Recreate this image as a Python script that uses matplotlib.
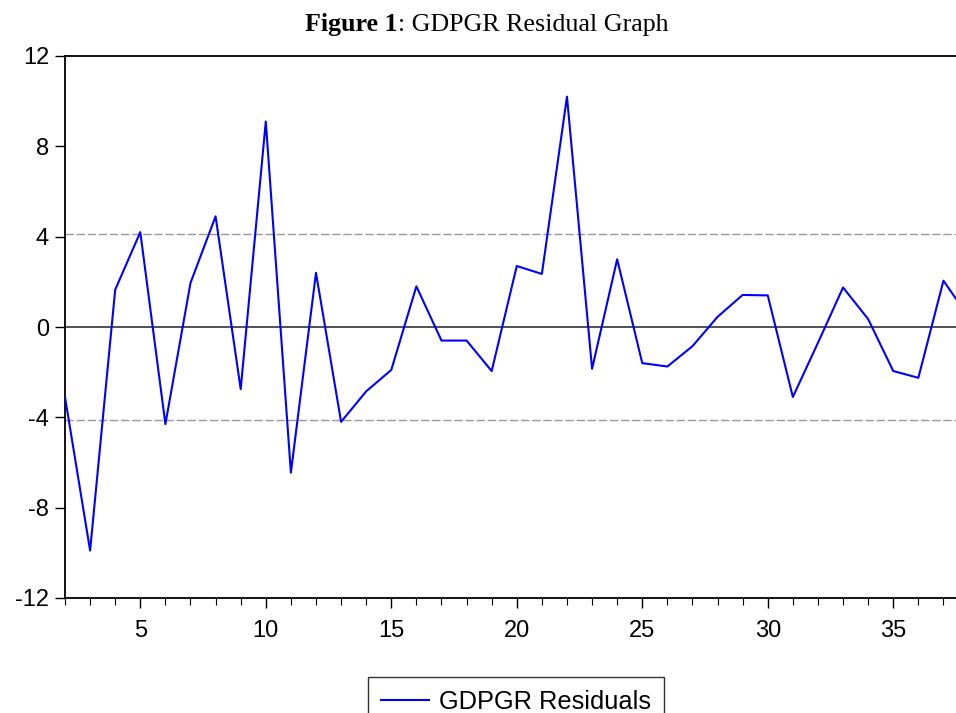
import matplotlib
matplotlib.use("Agg")
import matplotlib.pyplot as plt
from matplotlib.ticker import MultipleLocator

obs = list(range(2, 39))
resid = [-3.1, -9.9, 1.65, 4.2, -4.3, 1.95, 4.9, -2.75, 9.1, -6.45,
         2.4, -4.2, -2.85, -1.9, 1.8, -0.6, -0.6, -1.95, 2.7, 2.35,
         10.2, -1.85, 3.0, -1.6, -1.75, -0.85, 0.45, 1.42, 1.4, -3.1,
         -0.7, 1.75, 0.35, -1.95, -2.25, 2.05, 0.45]
band = 4.14
yticks = [-12, -8, -4, 0, 4, 8, 12]
xticks = [5, 10, 15, 20, 25, 30, 35]

fig = plt.figure(figsize=(9.56, 7.13), dpi=100)
ax = fig.add_axes([65/956, 1-598/713, 1-65/956, (598-56)/713])

ax.axhline(0, color="#333333", lw=1.2, zorder=1)
ax.axhline(band, color="#999999", lw=1.0, ls=(0, (6, 2)), zorder=1)
ax.axhline(-band, color="#999999", lw=1.0, ls=(0, (6, 2)), zorder=1)
ax.plot(obs, resid, color="#0000FF", lw=1.5, label="GDPGR Residuals", zorder=3)

ax.set_xlim(2, 37.5)
ax.set_ylim(-12, 12)
ax.set_yticks(yticks)
ax.set_yticklabels([str(v) for v in yticks])
ax.set_xticks(xticks)
ax.xaxis.set_minor_locator(MultipleLocator(1))
ax.tick_params(axis="both", which="major", direction="out", length=7.5, width=1,
               labelsize=17, color="black")
ax.tick_params(axis="x", which="minor", direction="out", length=5, width=0.8)
ax.tick_params(axis="x", pad=8)
ax.tick_params(axis="y", pad=4)
for lab in ax.get_xticklabels() + ax.get_yticklabels():
    lab.set_family("Liberation Sans")
ax.spines["right"].set_visible(False)
for s in ["left", "bottom", "top"]:
    ax.spines[s].set_linewidth(1.3)
    ax.spines[s].set_color("black")

t1 = fig.text(305/956, 1-24/713, "Figure 1", family="Liberation Serif",
              fontweight="bold", fontsize=18.7, va="center", ha="left")
fig.canvas.draw()
ax.annotate(": GDPGR Residual Graph", xy=(1, 0), xycoords=t1, va="bottom",
            ha="left", family="Liberation Serif", fontsize=18.7,
            annotation_clip=False)

leg = fig.legend(loc="upper left", bbox_to_anchor=(368/956, 1-677/713),
                 frameon=True, fancybox=False, edgecolor="black",
                 prop={"family": "Liberation Sans", "size": 18.3},
                 handlelength=1.9, borderpad=0.5, handletextpad=0.4,
                 borderaxespad=0)
leg.get_frame().set_linewidth(1.0)

fig.savefig("out.png", dpi=100)
